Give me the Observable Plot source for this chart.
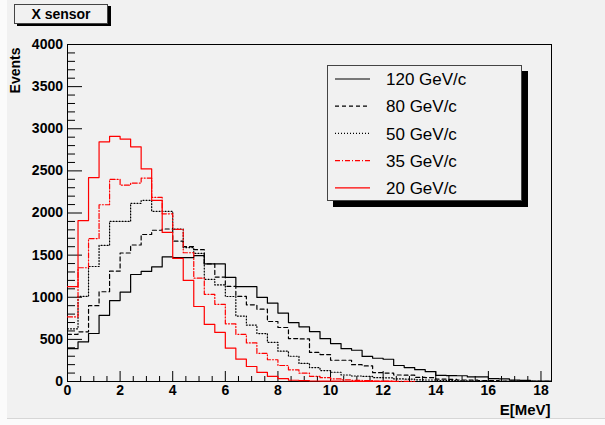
<!DOCTYPE html>
<html><head><meta charset="utf-8">
<script src="https://cdn.jsdelivr.net/npm/d3@7"></script>
<script src="https://cdn.jsdelivr.net/npm/@observablehq/plot@0.6"></script>
<style>
html,body{margin:0;padding:0;background:#fbfbfb;}
#wrap{position:relative;width:605px;height:425px;overflow:hidden;font-family:"Liberation Sans",Arial,sans-serif;}
#canvas{position:absolute;left:7px;top:0;width:598px;height:418px;background:#f1f1f1;border-bottom:1px solid #d6d6d6;}
#chart{position:absolute;left:0;top:0;}
#title{position:absolute;left:14px;top:4px;width:92px;height:18px;border:1px solid #444;background:#f1f1f1;box-shadow:3px 2px 0 #000;font-weight:bold;font-size:14px;line-height:18px;text-align:center;color:#000;}
#legend{position:absolute;left:327px;top:65px;width:193px;height:134px;border:1px solid #444;background:#f1f1f1;box-shadow:6px 6px 0 #000;}
</style></head>
<body>
<div id="wrap">
  <div id="canvas"></div>
  <div id="chart"></div>
  <div id="title">X sensor</div>
  <div id="legend"></div>
</div>
<script>
// ---- data ----
const binWidth = 0.4;      // MeV
const xMax = 18.4;
const seriesNames = ["120 GeV/c", "80 GeV/c", "50 GeV/c", "35 GeV/c", "20 GeV/c"];
const e120 = [390,470,570,785,960,1060,1270,1308,1360,1480,1470,1470,1495,1395,1395,1236,1125,1125,998,930,812,700,649,593,508,450,390,371,298,276,264,190,165,140,117,72,70,68,54,54,34,32,16,14,6,5];
const e80  = [560,590,900,1065,1310,1525,1620,1745,1795,1810,1665,1600,1565,1395,1240,1130,1010,910,859,712,641,510,505,345,320,252,252,200,185,105,100,77,75,48,46,28,26,18,16,12,10,6,5,3,2,1];
const e50  = [625,1010,1365,1615,1900,1900,2115,2150,2020,2020,1808,1590,1520,1213,1146,1009,777,670,569,465,360,300,215,165,130,110,77,65,60,46,44,30,28,20,18,12,10,7,6,4,3,2,2,1,1,0];
const e35  = [767,1350,1697,2098,2398,2330,2355,2415,2185,1990,1805,1528,1227,1035,916,685,560,458,335,258,190,139,99,62,45,30,20,14,10,6,4,2,1];
const e20  = [1125,1910,2420,2845,2910,2878,2785,2523,2150,1770,1462,1200,890,678,582,395,265,178,108,60,35,15,10,6,5,4,3,2,2,1,1];
const xMajorTicks = [0,2,4,6,8,10,12,14,16,18];
const xMinorTicks = [0.5,1,1.5,2.5,3,3.5,4.5,5,5.5,6.5,7,7.5,8.5,9,9.5,10.5,11,11.5,12.5,13,13.5,14.5,15,15.5,16.5,17,17.5];
const yMajorTicks = [0,500,1000,1500,2000,2500,3000,3500,4000];
const yMinorTicks = [100,200,300,400,600,700,800,900,1100,1200,1300,1400,1600,1700,1800,1900,2100,2200,2300,2400,2600,2700,2800,2900,3100,3200,3300,3400,3600,3700,3800,3900];

const styles = [
  {name: seriesNames[0], values: e120, stroke: "#000", dash: null},
  {name: seriesNames[1], values: e80,  stroke: "#000", dash: "4,3"},
  {name: seriesNames[2], values: e50,  stroke: "#000", dash: "1,2"},
  {name: seriesNames[3], values: e35,  stroke: "#ff0000", dash: "5,2,1,2"},
  {name: seriesNames[4], values: e20,  stroke: "#ff0000", dash: null}
];

function steps(values) {
  const pts = values.map((v, i) => ({x: i * binWidth, y: v}));
  pts.push({x: values.length * binWidth, y: values[values.length - 1]});
  return pts;
}

const frameW = 605 - 67 - 54;
const frameH = 425 - 44 - 44;

const chart = Plot.plot({
  width: 605, height: 425,
  marginLeft: 67, marginRight: 54, marginTop: 44, marginBottom: 44,
  style: {background: "transparent", fontFamily: "'Liberation Sans', Arial, sans-serif", color: "#000", overflow: "visible"},
  x: {domain: [0, xMax]},
  y: {domain: [0, 4000]},
  marks: [
    Plot.frame({stroke: "#000", strokeWidth: 1}),
    Plot.tickX(xMinorTicks, {x: d => d, insetTop: frameH - 5, stroke: "#000"}),
    Plot.tickX(xMajorTicks, {x: d => d, insetTop: frameH - 10, stroke: "#000"}),
    Plot.tickY(yMinorTicks, {y: d => d, insetRight: frameW - 8, stroke: "#000"}),
    Plot.tickY(yMajorTicks, {y: d => d, insetRight: frameW - 15, stroke: "#000"}),
    Plot.axisX({ticks: xMajorTicks, tickSize: 0, tickPadding: 4, fontSize: 14, fontWeight: "bold", label: null, tickFormat: d3.format("d")}),
    Plot.axisY({ticks: yMajorTicks, tickSize: 0, tickPadding: 4.5, fontSize: 14, fontWeight: "bold", label: null, tickFormat: d3.format("d")}),
    ...styles.map(s => Plot.line(steps(s.values), {
      x: "x", y: "y", curve: "step-after",
      stroke: s.stroke, strokeWidth: 1.2,
      strokeDasharray: s.dash ?? undefined
    })),
    Plot.text(["E[MeV]"], {text: d => d, frameAnchor: "bottom-right", dx: -1, dy: 29, textAnchor: "end", lineAnchor: "middle", fontSize: 15, fontWeight: "bold", fill: "#000"}),
    Plot.text(["Events"], {text: d => d, frameAnchor: "top-left", dx: -52, dy: 3, rotate: -90, textAnchor: "end", lineAnchor: "middle", fontSize: 14, fontWeight: "bold", fill: "#000"})
  ]
});
document.getElementById("chart").appendChild(chart);

// ---- legend (HTML/SVG overlay) ----
const ns = "http://www.w3.org/2000/svg";
const lg = document.createElementNS(ns, "svg");
lg.setAttribute("width", 193); lg.setAttribute("height", 134);
lg.style.position = "absolute"; lg.style.left = "0"; lg.style.top = "0";
lg.style.fontFamily = "'Liberation Sans', Arial, sans-serif";
styles.forEach((s, i) => {
  const cy = 13 + i * 27.2;
  const ln = document.createElementNS(ns, "line");
  ln.setAttribute("x1", 7); ln.setAttribute("x2", 42);
  ln.setAttribute("y1", cy); ln.setAttribute("y2", cy);
  ln.setAttribute("stroke", s.stroke); ln.setAttribute("stroke-width", 1.2);
  if (s.dash) ln.setAttribute("stroke-dasharray", s.dash);
  lg.appendChild(ln);
  const tx = document.createElementNS(ns, "text");
  tx.setAttribute("x", 58); tx.setAttribute("y", cy);
  tx.setAttribute("dy", "0.36em");
  tx.setAttribute("font-size", 17);
  tx.setAttribute("fill", "#000");
  tx.textContent = s.name;
  lg.appendChild(tx);
});
document.getElementById("legend").appendChild(lg);
</script>
</body></html>
